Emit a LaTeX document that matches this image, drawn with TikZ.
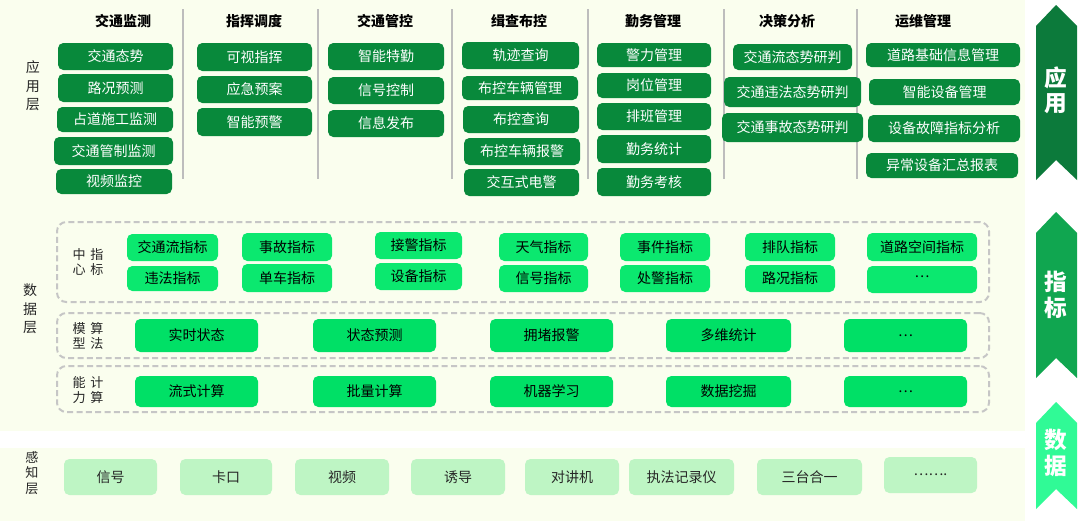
\documentclass[tikz,border=0pt]{standalone}
\usepackage{fontspec}
\setmainfont{Noto Sans CJK SC}
\definecolor{cream}{HTML}{FAFEEE}
\definecolor{appg}{HTML}{08893B}
\definecolor{idxg}{HTML}{0BE86F}
\definecolor{algg}{HTML}{00E066}
\definecolor{perg}{HTML}{BEF5C4}
\definecolor{sepc}{HTML}{BDBDBD}
\definecolor{dashc}{HTML}{C6C6C6}
\definecolor{arrA}{HTML}{0C7A3B}
\definecolor{arrB}{HTML}{10A650}
\definecolor{arrC}{HTML}{30FA96}
\newcommand\bx[7]{\node[#2, minimum width={(#5-#3)*0.75pt}, minimum height={(#6-#4)*0.75pt}] (#1) at ({(#3+#5)/2},{(#4+#6)/2}) {#7};}
\tikzset{
 base/.style={rounded corners=4pt, inner sep=0pt, font=\fontsize{10.5}{12}\selectfont},
 appbox/.style={base, fill=appg, text=white},
 idxbox/.style={base, fill=idxg, text=black},
 algbox/.style={base, fill=algg, text=black},
 perbox/.style={base, fill=perg, text=black!85},
 hdr/.style={font=\bfseries\fontsize{10.5}{12}\selectfont, inner sep=0pt},
 lbl/.style={font=\fontsize{10.5}{14}\selectfont, inner sep=0pt, align=center, text=black!85},
 lbls/.style={font=\fontsize{9.8}{11.5}\selectfont, inner sep=0pt, align=center, text=black!85},
 sepline/.style={draw=sepc, line width=1.1pt},
 dashbox/.style={draw=dashc, line width=1.5pt, dash pattern=on 4.5pt off 2.5pt, rounded corners=7pt},
 arrowlbl/.style={text=white, font=\bfseries\fontsize{17}{19}\selectfont, align=center, inner sep=0pt}
}
\begin{document}
\begin{tikzpicture}[x=0.75pt,y=-0.75pt]
\useasboundingbox (0,0) rectangle (1080,521);
\fill[white] (0,0) rectangle (1080,521);
\fill[cream] (0,0) rectangle (1025,431);
\fill[cream] (0,448) rectangle (1025,521);

% ---------- application layer ----------
\node[lbl] (appL) at (33,86) {应\\用\\层};
\node[hdr] (h1) at (123,21) {交通监测};
\node[hdr] (h2) at (254,21) {指挥调度};
\node[hdr] (h3) at (385,21) {交通管控};
\node[hdr] (h4) at (519,21) {缉查布控};
\node[hdr] (h5) at (653,21) {勤务管理};
\node[hdr] (h6) at (787,21) {决策分析};
\node[hdr] (h7) at (923,21) {运维管理};
\foreach \sx in {183,318,452,588,724,857}{\draw[sepline] (\sx,9) -- (\sx,179);}

\bx{a11}{appbox}{58}{43}{173}{70}{交通态势}
\bx{a12}{appbox}{58}{74}{173}{102}{路况预测}
\bx{a13}{appbox}{57}{107}{173}{132}{占道施工监测}
\bx{a14}{appbox}{54}{137}{173}{165}{交通管制监测}
\bx{a15}{appbox}{56}{169}{172}{194}{视频监控}

\bx{a21}{appbox}{197}{43}{312}{71}{可视指挥}
\bx{a22}{appbox}{197}{76}{312}{103}{应急预案}
\bx{a23}{appbox}{197}{108}{312}{136}{智能预警}

\bx{a31}{appbox}{328}{43}{444}{70}{智能特勤}
\bx{a32}{appbox}{328}{77}{444}{104}{信号控制}
\bx{a33}{appbox}{328}{110}{444}{137}{信息发布}

\bx{a41}{appbox}{462}{42}{579}{69}{轨迹查询}
\bx{a42}{appbox}{462}{76}{578}{100}{布控车辆管理}
\bx{a43}{appbox}{463}{106}{579}{133}{布控查询}
\bx{a44}{appbox}{464}{138}{580}{165}{布控车辆报警}
\bx{a45}{appbox}{464}{169}{579}{196}{交互式电警}

\bx{a51}{appbox}{597}{43}{711}{67}{警力管理}
\bx{a52}{appbox}{597}{73}{711}{98}{岗位管理}
\bx{a53}{appbox}{597}{103}{711}{130}{排班管理}
\bx{a54}{appbox}{597}{135}{711}{163}{勤务统计}
\bx{a55}{appbox}{597}{168}{711}{196}{勤务考核}

\bx{a61}{appbox}{733}{44}{852}{70}{交通流态势研判}
\bx{a62}{appbox}{724}{77}{861}{107}{交通违法态势研判}
\bx{a63}{appbox}{722}{113}{863}{142}{交通事故态势研判}

\bx{a71}{appbox}{866}{43}{1020}{67}{道路基础信息管理}
\bx{a72}{appbox}{869}{79}{1020}{105}{智能设备管理}
\bx{a73}{appbox}{868}{115}{1020}{142}{设备故障指标分析}
\bx{a74}{appbox}{866}{153}{1018}{178}{异常设备汇总报表}

% ---------- data layer ----------
\node[lbl] (dataL) at (30,309) {数\\据\\层};
\bx{d1}{dashbox}{57}{222}{989}{302}{}
\bx{d2}{dashbox}{57}{313}{989}{358}{}
\bx{d3}{dashbox}{57}{366}{989}{412}{}
\node[lbls] (l1) at (88,262) {中\hspace{3.5pt}指\\心\hspace{3.5pt}标};
\node[lbls] (l2) at (88,336) {模\hspace{3.5pt}算\\型\hspace{3.5pt}法};
\node[lbls] (l3) at (88,390) {能\hspace{3.5pt}计\\力\hspace{3.5pt}算};

\bx{i11}{idxbox}{127}{234}{218}{261}{交通流指标}
\bx{i12}{idxbox}{127}{266}{218}{291}{违法指标}
\bx{i21}{idxbox}{242}{233}{332}{261}{事故指标}
\bx{i22}{idxbox}{242}{264}{332}{292}{单车指标}
\bx{i31}{idxbox}{375}{232}{462}{259}{接警指标}
\bx{i32}{idxbox}{375}{263}{462}{290}{设备指标}
\bx{i41}{idxbox}{499}{233}{588}{261}{天气指标}
\bx{i42}{idxbox}{499}{265}{588}{292}{信号指标}
\bx{i51}{idxbox}{620}{233}{710}{261}{事件指标}
\bx{i52}{idxbox}{620}{265}{710}{292}{处警指标}
\bx{i61}{idxbox}{745}{233}{835}{261}{排队指标}
\bx{i62}{idxbox}{745}{265}{835}{292}{路况指标}
\bx{i71}{idxbox}{867}{233}{977}{261}{道路空间指标}
\bx{i72}{idxbox}{867}{266}{977}{293}{\raisebox{5pt}{…}}

\bx{m1}{algbox}{135}{319}{258}{352}{实时状态}
\bx{m2}{algbox}{313}{319}{436}{352}{状态预测}
\bx{m3}{algbox}{490}{319}{613}{352}{拥堵报警}
\bx{m4}{algbox}{666}{319}{791}{352}{多维统计}
\bx{m5}{algbox}{844}{319}{967}{352}{…}

\bx{c1}{algbox}{135}{376}{258}{407}{流式计算}
\bx{c2}{algbox}{313}{376}{436}{407}{批量计算}
\bx{c3}{algbox}{490}{376}{613}{407}{机器学习}
\bx{c4}{algbox}{666}{376}{791}{407}{数据挖掘}
\bx{c5}{algbox}{844}{376}{967}{407}{…}

% ---------- perception layer ----------
\node[lbls] (perL) at (32,473) {感\\知\\层};
\bx{p1}{perbox}{64}{459}{157}{495}{信号}
\bx{p2}{perbox}{180}{459}{272}{495}{卡口}
\bx{p3}{perbox}{295}{459}{389}{495}{视频}
\bx{p4}{perbox}{411}{459}{505}{495}{诱导}
\bx{p5}{perbox}{525}{459}{619}{495}{对讲机}
\bx{p6}{perbox}{629}{459}{734}{495}{执法记录仪}
\bx{p7}{perbox}{757}{459}{862}{495}{三台合一}
\bx{p8}{perbox}{884}{457}{977}{493}{…….}

% ---------- side arrows ----------
\fill[arrA] (1056,5) -- (1077,26) -- (1077,180) -- (1056,160) -- (1036,180) -- (1036,26) -- cycle;
\node[arrowlbl] (s1) at (1056,90) {应\\用};
\fill[arrB] (1056,212) -- (1077,233) -- (1077,378) -- (1056,358) -- (1036,378) -- (1036,233) -- cycle;
\node[arrowlbl] (s2) at (1056,295) {指\\标};
\fill[arrC] (1056,402) -- (1077,423) -- (1077,509) -- (1056,489) -- (1036,509) -- (1036,423) -- cycle;
\node[arrowlbl] (s3) at (1056,453) {数\\据};
\end{tikzpicture}
\end{document}
